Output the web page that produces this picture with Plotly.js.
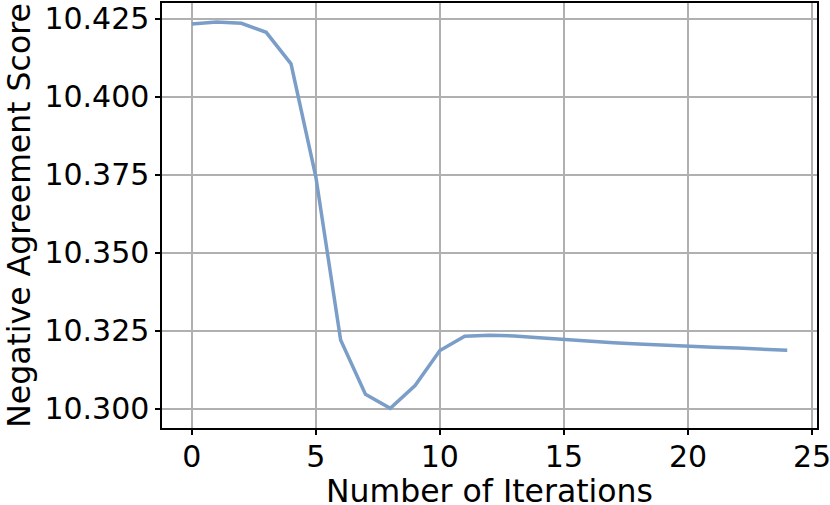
<!DOCTYPE html>
<html>
<head>
<meta charset="utf-8">
<script src="https://cdn.plot.ly/plotly-3.0.1.min.js"></script>
<style>html,body{margin:0;padding:0;background:#fff;}#chart{width:830px;height:505px;}</style>
</head>
<body>
<div id="chart"></div>
<script>
const iterations = [0,1,2,3,4,5,6,7,8,9,10,11,12,13,14,15,16,17,18,19,20,21,22,23,24];
const scores = [10.4234,10.4240,10.4236,10.4207,10.4106,10.3744,10.3221,10.3047,10.3002,10.3075,10.3187,10.3233,10.3236,10.3234,10.3228,10.3222,10.3217,10.3212,10.3208,10.3204,10.3201,10.3198,10.3195,10.3191,10.3188];
const xTicks = [0,5,10,15,20,25];
const yTicks = [10.300,10.325,10.350,10.375,10.400,10.425];
const yTickText = ["10.300","10.325","10.350","10.375","10.400","10.425"];
const xTitle = "Number of Iterations";
const yTitle = "Negative Agreement Score";

const tickFont = {family: "DejaVu Sans", size: 30, color: "#000"};
const titleFont = {family: "DejaVu Sans", size: 31.5, color: "#000"};
const trace = {
  x: iterations, y: scores, type: "scatter", mode: "lines",
  line: {color: "rgb(122,158,199)", width: 3.5},
  hoverinfo: "skip"
};
const axisCommon = {
  showline: true, linecolor: "#000", linewidth: 1.6, mirror: true,
  showgrid: true, gridcolor: "#b0b0b0", gridwidth: 1.6,
  zeroline: false, ticks: "outside", ticklen: 5, tickwidth: 1.6, tickcolor: "#000",
  tickfont: tickFont, ticklabeloverflow: "allow", automargin: false
};
const layout = {
  width: 830, height: 505,
  margin: {l: 162, r: 13, t: 3, b: 77},
  paper_bgcolor: "#fff", plot_bgcolor: "#fff",
  showlegend: false,
  font: tickFont,
  xaxis: Object.assign({}, axisCommon, {
    range: [-1.2, 25.2], tickvals: xTicks, ticktext: xTicks.map(String),
    ticklabelstandoff: -4
  }),
  yaxis: Object.assign({}, axisCommon, {
    range: [10.2939, 10.4301], tickvals: yTicks, ticktext: yTickText,
    title: {text: yTitle, font: titleFont, standoff: 4}
  }),
  annotations: [{
    text: xTitle, font: titleFont, showarrow: false,
    xref: "paper", yref: "paper", x: 0.5, y: 0,
    xanchor: "center", yanchor: "middle", yshift: -63
  }]
};
Plotly.newPlot("chart", [trace], layout, {staticPlot: true, displayModeBar: false});
</script>
</body>
</html>
